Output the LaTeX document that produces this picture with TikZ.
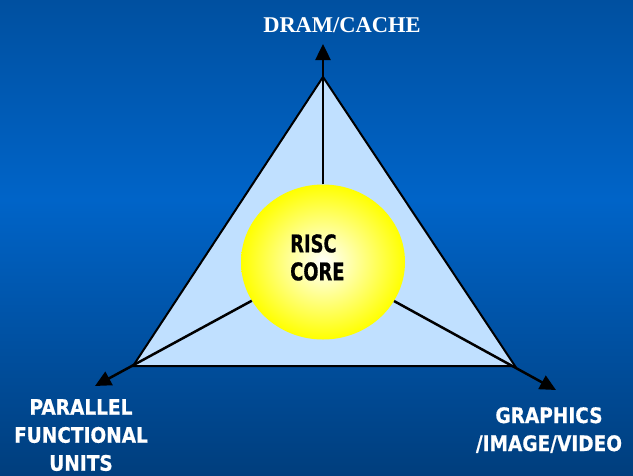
\documentclass[tikz,border=0pt]{standalone}
\usepackage{fontspec}
\setmainfont{Liberation Serif}
\newfontfamily\labelfont[FakeStretch=0.87,FakeBold=0.6]{DejaVu Sans}
\newfontfamily\corefont[FakeStretch=0.73,FakeBold=0.6]{DejaVu Sans}
\usetikzlibrary{positioning,calc,shapes.geometric,arrows.meta}
\definecolor{SlideTop}{RGB}{0,80,160}
\definecolor{SlideMid}{RGB}{0,100,200}
\definecolor{SlideBottom}{RGB}{0,62,125}
\definecolor{FaceBlue}{RGB}{192,224,255}
% darker at top and bottom, brightest a bit above the middle
\pgfdeclareverticalshading{slideshade}{100bp}{color(0bp)=(SlideBottom); color(25bp)=(SlideBottom);
  color(54bp)=(SlideMid); color(75bp)=(SlideTop); color(100bp)=(SlideTop)}
\tikzset{
  face/.style={draw=black,fill=FaceBlue,line width=2pt,line join=miter},
  axis/.style={draw=black,line width=2.5pt,-{Triangle[length=16pt,width=15pt]}},
  hub/.style={ellipse,minimum width=164pt,minimum height=155pt,inner sep=0pt,
    shading=radial,inner color=white,outer color=yellow},
  corelab/.style={inner sep=0pt,align=left,font=\corefont\bfseries\fontsize{24.5}{28}\selectfont},
}
\tikzset{toplab/.style={white,inner sep=0pt,font=\bfseries\fontsize{22.5}{27}\selectfont},
  corner/.style={white,inner sep=0pt,align=center,font=\labelfont\bfseries\fontsize{21.3}{28}\selectfont}}

\begin{document}
\begin{tikzpicture}[x=1pt,y=-1pt]
\shade[shading=slideshade] (0,0) rectangle (633,475);
\useasboundingbox (0,0) rectangle (633,475);
% triangle corners
\coordinate (vdram) at (323,77);
\coordinate (vpar) at (133,366);
\coordinate (vgfx) at (515,366);
\draw[face] (vdram) -- (vpar) -- (vgfx) -- cycle;
\node[hub] (risc) at (323,262) {};
\node[corelab,anchor=north west] (risclab) at (290,234) {RISC\\CORE};
% arrow ends past the corners
\coordinate (tdram) at (323,44);
\coordinate (tpar) at (95,386);
\coordinate (tgfx) at (556,390);
\draw[axis] (risc) -- (tdram);
\draw[axis] (risc) -- (tpar);
\draw[axis] (risc) -- (tgfx);
\node[toplab,anchor=base] (dram) at (342,32.5) {DRAM/CACHE};
\node[corner,anchor=north] (par) at (81,399) {PARALLEL\\FUNCTIONAL\\UNITS};
\node[corner,anchor=north] (gfx) at (549,407) {GRAPHICS\\/IMAGE/VIDEO};
\end{tikzpicture}
\end{document}
